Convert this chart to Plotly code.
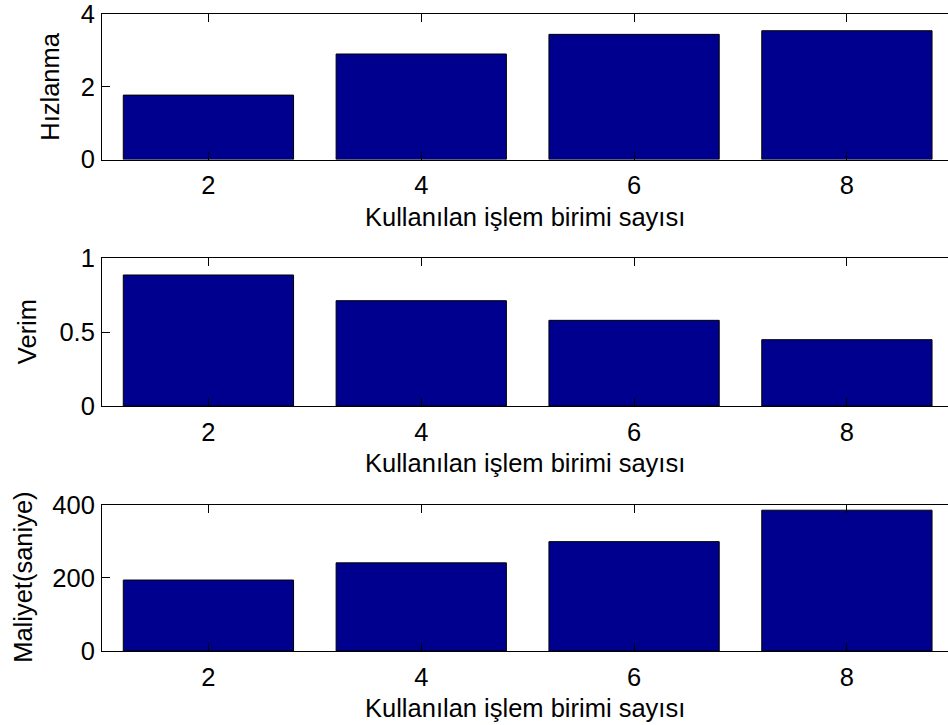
import plotly.graph_objects as go

# ---- data ----
processors = [2, 4, 6, 8]
speedup = [1.77, 2.90, 3.44, 3.54]
efficiency = [0.887, 0.713, 0.58, 0.449]
cost = [194, 241, 299, 385]

x_tick_vals = [2, 4, 6, 8]
x_title = "Kullanılan işlem birimi sayısı"
y_titles = ["Hızlanma", "Verim", "Maliyet(saniye)"]
y_ranges = [[0, 4], [0, 1], [0, 400]]
y_tick_vals = [[0, 2, 4], [0, 0.5, 1], [0, 200, 400]]
series = [speedup, efficiency, cost]

# ---- layout geometry (pixels) ----
W, H = 948, 725
ML, MR, MT, MB = 102, 0, 14, 725 - 651
plot_h = H - MT - MB
plot_w = W - ML - MR
bottom_px = H - MB


def py(px):
    return (bottom_px - px) / plot_h


def pxx(px):
    return (px - ML) / plot_w


domains = [[py(159.5), 1.0], [py(406), py(258.3)], [0.0, py(504.7)]]
axis_bottoms = [159.5, 406, 651]
ytitle_x = [50, 27, 23]

FONT = "Liberation Sans, Arial, sans-serif"
FS = 25.5
BAR_COLOR = "#00008F"

fig = go.Figure()
layout = dict(
    width=W, height=H,
    margin=dict(l=ML, r=MR, t=MT, b=MB),
    paper_bgcolor="white", plot_bgcolor="white",
    showlegend=False,
    font=dict(family=FONT, size=FS, color="black"),
)
annotations = []
for i in range(3):
    n = "" if i == 0 else str(i + 1)
    m = str(i + 4)
    fig.add_trace(go.Bar(
        x=processors, y=series[i], width=1.6,
        marker=dict(color=BAR_COLOR, line=dict(color="black", width=1)),
        xaxis="x" + n, yaxis="y" + n, hoverinfo="x+y",
    ))
    layout["xaxis" + n] = dict(
        domain=[0, 1], anchor="y" + n, range=[1.0, 8.95],
        tickvals=x_tick_vals, ticks="inside", ticklen=8, tickcolor="black",
        showline=True, linecolor="black", linewidth=1, mirror="ticks",
        showgrid=False, zeroline=False, ticklabelstandoff=3,
        tickfont=dict(family=FONT, size=FS, color="black"),
    )
    layout["yaxis" + n] = dict(
        domain=domains[i], anchor="x" + n, range=y_ranges[i],
        tickvals=y_tick_vals[i], ticks="inside", ticklen=8, tickcolor="black",
        showline=True, linecolor="black", linewidth=1, mirror=False,
        showgrid=False, zeroline=False, ticklabelstandoff=1,
        ticklabeloverflow="allow",
        tickfont=dict(family=FONT, size=FS, color="black"),
    )
    # right-hand tick marks only (the axes box is cut at the right edge)
    layout["yaxis" + m] = dict(
        domain=domains[i], anchor="x" + n, overlaying="y" + n, side="right",
        range=y_ranges[i], tickvals=y_tick_vals[i], ticks="inside", ticklen=5,
        tickcolor="black", showline=False, showgrid=False, zeroline=False,
        showticklabels=False,
    )
    annotations.append(dict(
        text=x_title, xref="paper", yref="paper",
        x=0.5, y=py(axis_bottoms[i] + 57), xanchor="center", yanchor="middle",
        showarrow=False, font=dict(family=FONT, size=FS, color="black"),
    ))
    annotations.append(dict(
        text=y_titles[i], xref="paper", yref="paper", textangle=-90,
        x=pxx(ytitle_x[i]), y=(domains[i][0] + domains[i][1]) / 2,
        xanchor="center", yanchor="middle",
        showarrow=False, font=dict(family=FONT, size=FS, color="black"),
    ))
layout["annotations"] = annotations
fig.update_layout(**layout)
fig.write_html(
    "out.html",
    config={"displayModeBar": False},
    post_script="document.body.style.margin='0';document.body.style.overflow='hidden';",
)
